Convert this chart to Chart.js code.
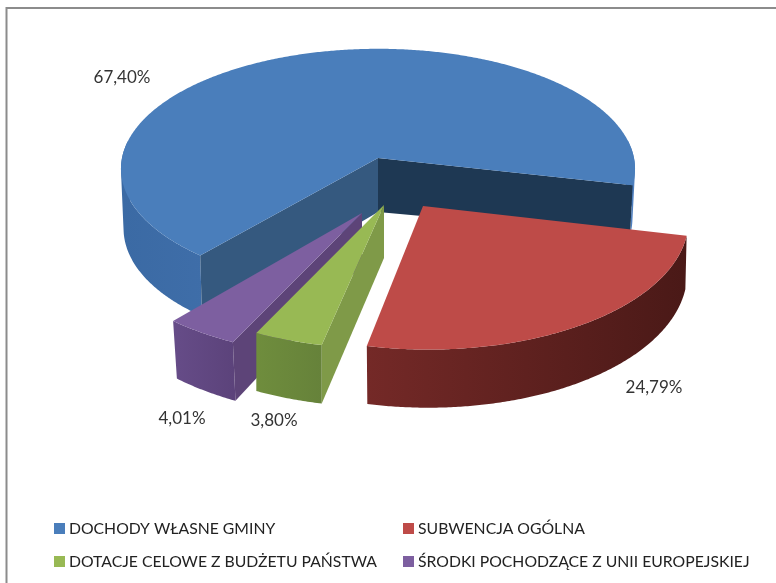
<!DOCTYPE html>
<html>
<head>
<meta charset="utf-8">
<style>
html,body{margin:0;padding:0;background:#fff;overflow:hidden}
canvas{display:block}
</style>
<script src="https://cdn.jsdelivr.net/npm/chart.js@4/dist/chart.umd.min.js"></script>
</head>
<body>
<canvas id="c" width="776" height="583"></canvas>
<script>
const categories = ['DOCHODY WŁASNE GMINY','SUBWENCJA OGÓLNA','DOTACJE CELOWE Z BUDŻETU PAŃSTWA','ŚRODKI POCHODZĄCE Z UNII EUROPEJSKIEJ'];
const shares = [67.40,24.79,3.80,4.01];
const topColors = ['#4a7ebb','#be4b48','#98b954','#7d5fa0'];

// 3D view of every library arc: apex on screen, radius, tilt, thickness (purely presentational)
const perspective = 0.09;
const views = [
  {ax:378,ay:158,R:256,k:.465,d:54,kb:.48, rb:.99, sh:0,   tilt:-.02,rim:['#3b6aa4','#5080c0'],startFace:'#35597f',endFace:'#1e3853'},
  {ax:423,ay:206,R:264,k:.495,d:52,kb:.516,rb:.995,sh:.035,tilt:0,rim:['#742927','#4a1917'],startFace:null,endFace:null},
  {ax:384,ay:205,R:269,k:.486,d:53,kb:.505,rb:1,   sh:0,   tilt:0,rim:['#6f8d3d','#66823a'],startFace:'#7f9a48',endFace:null},
  {ax:362,ay:213,R:272,k:.485,d:52,kb:.51, rb:.98, sh:0,   tilt:0,rim:['#664c88','#5c437b'],startFace:'#5d4478',endFace:null}
];
const paintOrder = [0,3,2,1];
const valueLabelAt = [[122,78],[654,388],[274,421],[182,419]];
const legendAt = [[54,528.5],[403,528.5],[54,561.5],[403,561.5]];

function topPt(v,a){const s=1/(1-perspective*Math.sin(a)),y=v.k*v.R*Math.sin(a)*s;return [v.ax+v.R*Math.cos(a)*s+v.sh*y, v.ay+y];}
function botPt(v,a){const s=1/(1-perspective*Math.sin(a)),y=v.kb*v.R*Math.sin(a)*s;return [v.ax+v.rb*v.R*Math.cos(a)*s+v.sh*y, v.ay+v.d+y+v.tilt*v.R*Math.cos(a)*s];}
function poly(ctx,pts){ctx.beginPath();pts.forEach((p,i)=>i?ctx.lineTo(p[0],p[1]):ctx.moveTo(p[0],p[1]));ctx.closePath();}
function face(ctx,v,a,color){
  poly(ctx,[[v.ax,v.ay],topPt(v,a),botPt(v,a),[v.ax,v.ay+v.d]]);
  ctx.fillStyle=color;ctx.fill();
}

const pie3d = {
  id:'pie3d',
  beforeDraw(chart){
    const ctx=chart.ctx;
    ctx.save();
    ctx.fillStyle='#fff';ctx.fillRect(0,0,chart.width,chart.height);
    ctx.strokeStyle='#8c8c8c';ctx.lineWidth=2;
    ctx.beginPath();ctx.moveTo(6.5,chart.height);ctx.lineTo(6.5,8);ctx.lineTo(chart.width,8);ctx.stroke();
    ctx.restore();
  },
  beforeDatasetsDraw(chart){
    const ctx=chart.ctx, arcs=chart.getDatasetMeta(0).data;
    ctx.save();
    paintOrder.forEach(i=>{
      const arc=arcs[i], v=views[i], a0=arc.startAngle, a1=arc.endAngle;
      const n=Math.max(8,Math.ceil((a1-a0)*120));
      const at=j=>a0+(a1-a0)*j/n;
      const top=[[v.ax,v.ay]];
      let x0=Infinity,x1=-Infinity;
      for(let j=0;j<=n;j++){const p=topPt(v,at(j));top.push(p);x0=Math.min(x0,p[0]);x1=Math.max(x1,p[0]);}
      const g=ctx.createLinearGradient(x0,0,x1,0);
      g.addColorStop(0,v.rim[0]);g.addColorStop(1,v.rim[1]);
      // outer wall: one path swept along the arc, filled once so no seams appear
      ctx.beginPath();
      for(let j=0;j<n;j++){
        const b0=at(j),b1=at(j+1);
        if(Math.sin((b0+b1)/2)<-0.15) continue;
        const q=[topPt(v,b0),topPt(v,b1),botPt(v,b1),botPt(v,b0)];
        // keep every quad wound the same way so overlaps never cancel
        const area=q.reduce((s,p,m)=>{const r=q[(m+1)%4];return s+p[0]*r[1]-r[0]*p[1];},0);
        if(area<0) q.reverse();
        q.forEach((p,m)=>m?ctx.lineTo(p[0],p[1]):ctx.moveTo(p[0],p[1]));
        ctx.closePath();
      }
      ctx.fillStyle=g;ctx.fill();
      if(v.endFace) face(ctx,v,a1,v.endFace);
      if(v.startFace) face(ctx,v,a0,v.startFace);
      poly(ctx,top);ctx.fillStyle=arc.options.backgroundColor;ctx.fill();
    });
    ctx.restore();
    return false;
  },
  afterDraw(chart){
    const ctx=chart.ctx, ds=chart.data.datasets[0];
    ctx.save();
    ctx.textBaseline='middle';
    ctx.fillStyle='#333';ctx.font='17px Lato';ctx.textAlign='center';
    ds.data.forEach((val,i)=>{
      ctx.fillText(val.toFixed(2).replace('.',',')+'%',valueLabelAt[i][0],valueLabelAt[i][1]);
    });
    ctx.textAlign='left';ctx.font='15.75px Lato';
    chart.data.labels.forEach((t,i)=>{
      const [x,y]=legendAt[i];
      ctx.fillStyle=ds.backgroundColor[i];ctx.fillRect(x,y-5.5,11,11);
      ctx.fillStyle='#222';ctx.fillText(t,x+15,y);
    });
    ctx.restore();
  }
};

new Chart(document.getElementById('c'),{
  type:'pie',
  data:{labels:categories,datasets:[{data:shares,backgroundColor:topColors,borderWidth:0}]},
  options:{
    responsive:false,animation:false,rotation:220.3,
    plugins:{legend:{display:false},tooltip:{enabled:false}}
  },
  plugins:[pie3d]
});
</script>
</body>
</html>
